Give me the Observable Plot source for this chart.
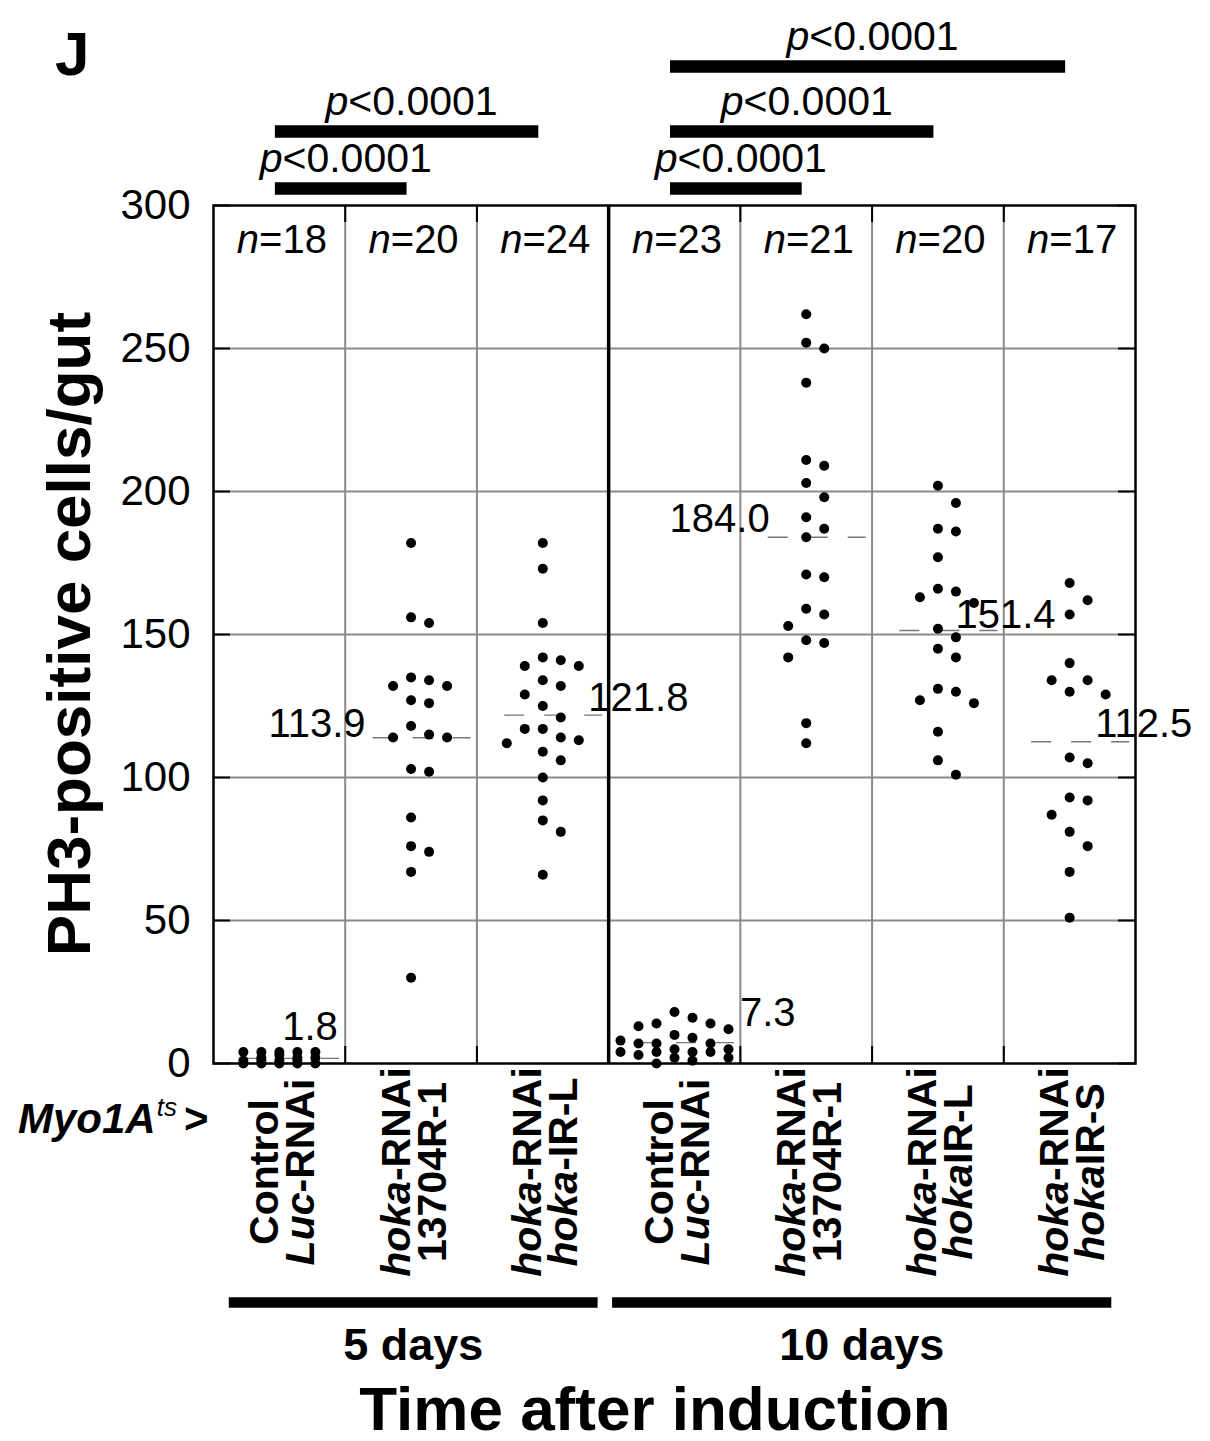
<!DOCTYPE html>
<html>
<head>
<meta charset="utf-8">
<script src="https://cdn.jsdelivr.net/npm/d3@7"></script>
<script src="https://cdn.jsdelivr.net/npm/@observablehq/plot@0.6"></script>
<style>
  html, body { margin: 0; padding: 0; background: #fff; }
  #chart svg { display: block; }
</style>
</head>
<body>
<div id="chart"></div>
<script>
// ---------------- DATA ----------------
const groupKeys = ["ctrl5", "hoka13704_5", "hokaIRL_5", "ctrl10", "hoka13704_10", "hokaIRL_10", "hokaIRS_10"];

// 5 days after induction
const ctrl5 = [0, 0, 0, 0, 0, 1, 1, 1, 1, 2, 2, 2, 3, 4, 4, 4, 4, 4];
const hoka13704_5 = [182, 156, 154, 135, 134, 132, 132, 127, 126, 118, 115, 114, 114, 103, 102, 86, 76, 74, 67, 30];
const hokaIRL_5 = [182, 173, 154, 142, 139, 139, 141, 132, 134, 129, 125, 121, 117, 117, 114, 112, 113, 109, 106, 100, 92, 85, 81, 66];
// 10 days after induction
const ctrl10 = [18, 4, 14, 9, 5, 2, 13, 7, 4, 1, 12, 7, 4, 14, 7, 4, 2, 0, 16, 8, 5, 3, 10];
const hoka13704_10 = [262, 252, 250, 238, 211, 209, 203, 198, 191, 187, 184, 170, 171, 159, 157, 153, 148, 147, 142, 119, 112];
const hokaIRL_10 = [202, 196, 187, 186, 177, 166, 163, 165, 161, 152, 149, 145, 142, 130, 131, 126, 127, 116, 106, 101];
const hokaIRS_10 = [168, 162, 157, 140, 134, 134, 130, 129, 105, 107, 93, 92, 87, 81, 76, 67, 51];

const seriesValues = [ctrl5, hoka13704_5, hokaIRL_5, ctrl10, hoka13704_10, hokaIRL_10, hokaIRS_10];
const reportedMeans = [1.8, 113.9, 121.8, 7.3, 184.0, 151.4, 112.5];

const yTicks = [0, 50, 100, 150, 200, 250, 300];

// x labels: [text, italic]
const labelLine1 = [
  [["Control", 0]],
  [["hoka", 1], ["-RNAi", 0]],
  [["hoka", 1], ["-RNAi", 0]],
  [["Control", 0]],
  [["hoka", 1], ["-RNAi", 0]],
  [["hoka", 1], ["-RNAi", 0]],
  [["hoka", 1], ["-RNAi", 0]]
];
const labelLine2 = [
  [["Luc", 1], ["-RNAi", 0]],
  [["13704R-1", 0]],
  [["hoka", 1], ["-IR-L", 0]],
  [["Luc", 1], ["-RNAi", 0]],
  [["13704R-1", 0]],
  [["hoka", 1], ["IR-L", 0]],
  [["hoka", 1], ["IR-S", 0]]
];

// significance comparisons
const compFrom = [0, 0, 3, 3, 3];
const compTo = [1, 2, 4, 5, 6];
const compLevel = [0, 1, 0, 1, 2];
const compText = ["<0.0001", "<0.0001", "<0.0001", "<0.0001", "<0.0001"];

// time groups
const timeLabels = ["5 days", "10 days"];
const timeFirst = [0, 3];
const timeLast = [2, 6];

// ---------------- LAYOUT ----------------
const FONT = "'Liberation Sans', Arial, Helvetica, sans-serif";
const W = 1210, H = 1441;
const M = {top: 205, right: 75, bottom: 378, left: 213};
const colPx = (W - M.left - M.right) / 7;
const ppu = (H - M.top - M.bottom) / 300;   // pixels per unit of y
const slotStep = 18 / colPx;                // horizontal dot spacing in x units
const maxSpread = [2, 2, 2, 3, 3, 3, 3];
const minGapPx = 20;
const barOffsets = [17, 74, 139];           // px above plot top for comparison bars
const timeBarPad = [[0.38, 0.42], [0.47, 0.32]];
const meanLabelPlace = [
  {anchor: "end", dx: 59, dy: -18},
  {anchor: "end", dx: -45, dy: 0},
  {anchor: "start", dx: 46, dy: -4},
  {anchor: "start", dx: 66, dy: -16},
  {anchor: "end", dx: -36, dy: -5},
  {anchor: "start", dx: 18, dy: -2},
  {anchor: "start", dx: 26, dy: -4}
];

// discrete swarm: assign each value a horizontal slot
function swarm(values, maxSlot) {
  const order = d3.range(values.length).sort((a, b) => values[b] - values[a]);
  const cand = [0];
  for (let k = 1; k <= maxSlot; k++) cand.push(k, -k);
  const used = new Map();
  const out = new Array(values.length);
  for (const idx of order) {
    const yp = values[idx] * ppu;
    let best = null, bestD = -1;
    for (const s of cand) {
      const list = used.get(s) || [];
      const dmin = list.length ? d3.min(list, y => Math.abs(y - yp)) : Infinity;
      if (dmin >= minGapPx) { best = s; break; }
      if (dmin > bestD) { bestD = dmin; best = s; }
    }
    if (!used.has(best)) used.set(best, []);
    used.get(best).push(yp);
    out[idx] = best;
  }
  return out;
}

const points = seriesValues.flatMap((vals, i) => {
  const slots = swarm(vals, maxSpread[i]);
  return vals.map((v, j) => ({group: groupKeys[i], i, v, x: i + slots[j] * slotStep}));
});
const meanRows = reportedMeans.map((m, i) => ({i, m}));
const compRows = compFrom.map((f, k) => ({from: f, to: compTo[k], level: compLevel[k], text: compText[k]}));
const timeRows = timeLabels.map((t, k) => ({label: t, first: timeFirst[k], last: timeLast[k],
  x1: timeFirst[k] - timeBarPad[k][0], x2: timeLast[k] + timeBarPad[k][1]}));

const boundaries = [0.5, 1.5, 3.5, 4.5, 5.5];
const divider = [2.5];
const tickLenX = 17 / colPx, tickLenY = 17 / ppu;

const plot = Plot.plot({
  width: W, height: H,
  marginTop: M.top, marginRight: M.right, marginBottom: M.bottom, marginLeft: M.left,
  x: {domain: [-0.5, 6.5], axis: null},
  y: {domain: [0, 300], axis: null},
  style: {fontFamily: FONT, background: "#fff", color: "#000", overflow: "visible"},
  marks: [
    Plot.ruleY(yTicks.filter(v => v > 0 && v < 300), {stroke: "#8a8a8a", strokeWidth: 2}),
    Plot.ruleX(boundaries, {stroke: "#8a8a8a", strokeWidth: 2}),
    // inward tick marks
    Plot.ruleY(yTicks, {x1: () => -0.5, x2: () => -0.5 + tickLenX, stroke: "#000", strokeWidth: 2}),
    Plot.ruleY(yTicks, {x1: () => 6.5 - tickLenX, x2: () => 6.5, stroke: "#000", strokeWidth: 2}),
    Plot.ruleX(boundaries, {y1: () => 0, y2: () => tickLenY, stroke: "#000", strokeWidth: 2}),
    Plot.ruleX(boundaries, {y1: () => 300 - tickLenY, y2: () => 300, stroke: "#000", strokeWidth: 2}),
    Plot.ruleX(divider, {stroke: "#000", strokeWidth: 3.5}),
    Plot.frame({stroke: "#000", strokeWidth: 2.5}),
    // means
    Plot.ruleY(meanRows, {y: "m", x1: d => d.i - 38 / colPx, x2: d => d.i + 60 / colPx,
      stroke: "#777", strokeWidth: 1.3, strokeDasharray: "20,20"}),
    // dots
    Plot.dot(points, {x: "x", y: "v", r: 5, fill: "#000", stroke: "none"}),
    // y axis
    Plot.axisY({ticks: yTicks, tickSize: 0, tickPadding: 23, fontSize: 42, label: null,
      tickFormat: d => String(d), fill: "#000"}),
    // comparison bars
    Plot.ruleY(compRows, {y: d => 300 + barOffsets[d.level] / ppu,
      x1: d => d.from - 4 / colPx, x2: d => d.to - 4 / colPx, stroke: "#000", strokeWidth: 12.5}),
    // time group bars
    Plot.ruleY(timeRows, {y: () => -(239 / ppu), x1: "x1", x2: "x2",
      stroke: "#000", strokeWidth: 10.5})
  ]
});
document.getElementById("chart").append(plot);

// ---------------- TEXT ANNOTATIONS (positioned via the plot's scales) ----------------
const sx = plot.scale("x"), sy = plot.scale("y");
const svg = d3.select(plot);
const g = svg.append("g").attr("fill", "#000").attr("font-family", FONT).attr("text-anchor", "start");

function addText(parent, x, y, parts, size, weight = "normal", anchor = "start") {
  const t = parent.append("text")
    .attr("x", x).attr("y", y)
    .attr("font-size", size).attr("font-weight", weight)
    .attr("text-anchor", anchor);
  for (const [s, it] of parts) {
    const ts = t.append("tspan").text(s);
    if (it) ts.attr("font-style", "italic");
  }
  return t;
}

// panel letter
addText(g, 55, 75, [["J", 0]], 62, "bold");

// n labels
seriesValues.forEach((vals, i) => {
  addText(g, sx.apply(i) + 3, sy.apply(300) + 48, [["n", 1], ["=" + vals.length, 0]], 40, "normal", "middle");
});

// mean labels
reportedMeans.forEach((m, i) => {
  const p = meanLabelPlace[i];
  addText(g, sx.apply(i) + p.dx, sy.apply(m) + p.dy, [[m.toFixed(1), 0]], 40, "normal", p.anchor);
});

// comparison labels
compRows.forEach(d => {
  const cx = (sx.apply(d.from) + sx.apply(d.to)) / 2 + 1;
  const by = sy.apply(300 + barOffsets[d.level] / ppu);
  addText(g, cx, by - 16, [["p", 1], [d.text, 0]], 41, "normal", "middle");
});

// y-axis title
const yTitle = g.append("g").attr("transform", `translate(90, ${(sy.apply(0) + sy.apply(300)) / 2}) rotate(-90)`);
addText(yTitle, 0, 0, [["PH3-positive cells/gut", 0]], 62, "bold", "middle");

// Myo1A^ts >
{
  const t = g.append("text").attr("x", 18).attr("y", 1133).attr("font-size", 42).attr("text-anchor", "start");
  t.append("tspan").text("Myo1A").attr("font-style", "italic").attr("font-weight", "bold");
  t.append("tspan").text("ts").attr("font-style", "italic").attr("font-size", 26).attr("dy", -17).attr("dx", 1);
  t.append("tspan").text(">").attr("font-weight", "bold").attr("dy", 17).attr("dx", 7);
}

// x labels (rotated, two lines)
labelLine1.forEach((l1, i) => {
  const gg = g.append("g").attr("transform", `translate(${sx.apply(i)}, 1172) rotate(-90)`);
  addText(gg, 0, -1, l1, 41, "bold", "middle");
  addText(gg, 0, 35, labelLine2[i], 41, "bold", "middle");
});

// time group labels
timeRows.forEach(d => {
  const cx = (sx.apply(d.x1) + sx.apply(d.x2)) / 2;
  addText(g, cx, 1360, [[d.label, 0]], 45, "bold", "middle");
});

// x-axis title
addText(g, 655, 1430, [["Time after induction", 0]], 62, "bold", "middle");
</script>
</body>
</html>
